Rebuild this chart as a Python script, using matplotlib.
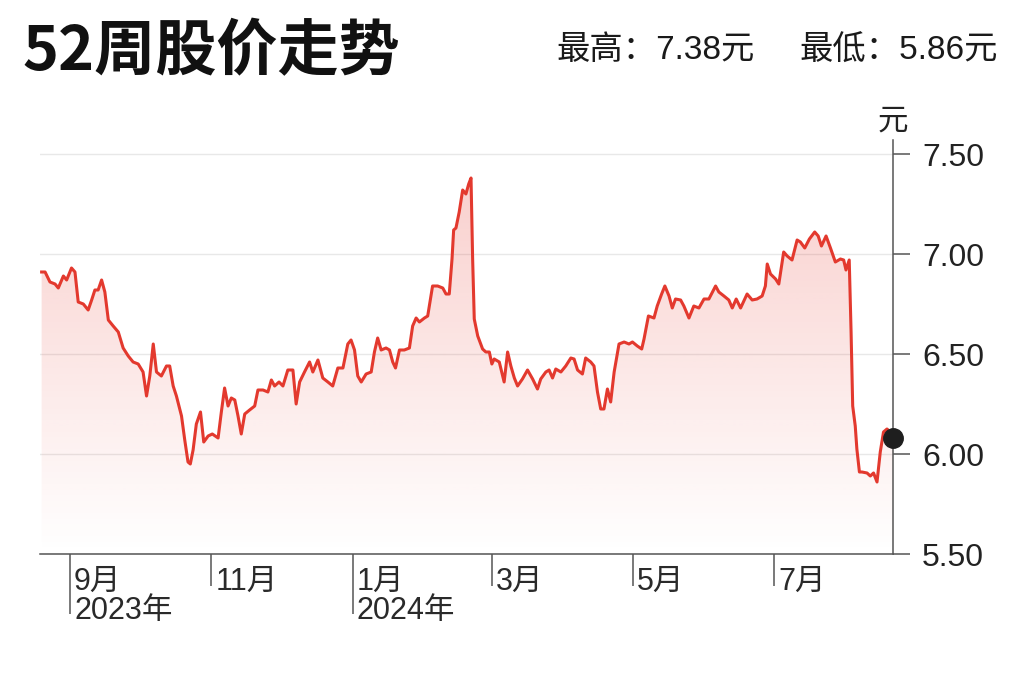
import numpy as np
import pandas as pd
import matplotlib
matplotlib.use('Agg')
import matplotlib.pyplot as plt
import matplotlib.dates as mdates
import matplotlib.transforms as mtransforms
from matplotlib.patches import Polygon

plt.rcParams['font.family'] = ['Noto Sans CJK SC', 'DejaVu Sans']
latin = ['Liberation Sans', 'Noto Sans CJK SC']

# data (days after 2023-08-19, close price in 元)
start = pd.Timestamp('2023-08-19')
day = [0.7, 2.2, 4.3, 6.5, 7.9, 10.1, 11.5, 13.6, 15.1, 16.5, 18.7, 20.8,
       22.3, 23.7, 25.1, 26.6, 28.0, 29.5, 31.6, 33.8, 35.9, 38.1, 40.2, 42.4,
       44.5, 46.0, 47.4, 48.9, 50.3, 52.4, 54.6, 56.0, 57.5, 58.9, 61.1, 62.5,
       63.9, 64.9, 66.1, 67.5, 69.3, 70.7, 72.6, 74.4, 76.9, 78.3, 79.7, 81.2,
       82.6, 84.1, 85.5, 86.9, 88.4, 90.5, 92.7, 94.1, 96.3, 98.4, 99.9, 101.3,
       103.2, 104.9, 107.0, 109.2, 110.6, 112.1, 114.2, 116.4, 117.8, 120.0,
       122.1, 124.3, 126.4, 128.6, 130.8, 132.9, 134.3, 135.8, 137.2, 138.7,
       140.8, 143.0, 144.4, 145.8, 147.3, 149.4, 150.9, 152.3, 153.5, 155.2,
       157.3, 159.5, 160.9, 162.4, 163.8, 166.0, 167.4, 169.5, 171.7, 173.9,
       175.3, 176.7, 177.9, 178.6, 179.6, 181.0, 182.5, 183.9, 185.1, 186.1,
       186.8, 187.5, 189.0, 191.1, 192.5, 194.0, 195.1, 196.1, 198.3, 200.4,
       201.9, 203.3, 204.8, 206.2, 208.3, 210.5, 212.7, 214.8, 216.2, 218.4,
       219.8, 221.3, 222.7, 224.9, 227.0, 229.2, 230.6, 232.1, 234.2, 235.6,
       237.8, 239.2, 240.7, 242.1, 243.5, 245.0, 246.4, 247.9, 250.0, 252.2,
       254.3, 255.8, 257.9, 259.8, 260.8, 262.7, 265.1, 266.5, 268.4, 269.8,
       271.6, 273.0, 274.4, 276.6, 278.0, 280.2, 282.3, 284.5, 286.7, 288.8,
       291.7, 293.1, 295.3, 297.4, 298.9, 300.6, 302.5, 305.3, 307.5, 309.6,
       311.8, 313.2, 314.0, 315.4, 317.6, 319.0, 321.1, 322.6, 324.7, 326.9,
       328.3, 330.2, 332.2, 334.5, 336.0, 337.4, 339.4, 341.3, 343.4, 345.6,
       347.0, 348.0, 349.4, 350.2, 350.9, 352.0, 352.7, 353.8, 354.9, 357.1,
       358.5, 359.9, 361.4, 362.8, 364.2, 365.7, 367.1, 368.3]
price = [6.91, 6.91, 6.86, 6.85, 6.83, 6.89, 6.87, 6.93, 6.91, 6.76, 6.75, 6.72,
         6.77, 6.82, 6.82, 6.87, 6.81, 6.67, 6.64, 6.61, 6.53, 6.49, 6.46, 6.45,
         6.41, 6.29, 6.39, 6.55, 6.41, 6.39, 6.44, 6.44, 6.34, 6.29, 6.19, 6.07,
         5.96, 5.95, 6.02, 6.15, 6.21, 6.06, 6.09, 6.10, 6.08, 6.21, 6.33, 6.24,
         6.28, 6.27, 6.19, 6.10, 6.20, 6.22, 6.24, 6.32, 6.32, 6.31, 6.37, 6.34,
         6.36, 6.34, 6.42, 6.42, 6.25, 6.36, 6.41, 6.46, 6.41, 6.47,
         6.38, 6.36, 6.34, 6.43, 6.43, 6.55, 6.57, 6.52, 6.39, 6.36,
         6.40, 6.41, 6.51, 6.58, 6.52, 6.53, 6.52, 6.46, 6.43, 6.52,
         6.52, 6.53, 6.64, 6.68, 6.66, 6.68, 6.69, 6.84, 6.84, 6.83,
         6.80, 6.80, 6.975, 7.12, 7.13, 7.21, 7.32, 7.30, 7.35, 7.38,
         6.975, 6.675, 6.59, 6.525, 6.51, 6.51, 6.45, 6.475, 6.46, 6.36,
         6.51, 6.44, 6.38, 6.34, 6.375, 6.42, 6.375, 6.325, 6.375, 6.41,
         6.42, 6.38, 6.425, 6.41, 6.44, 6.48, 6.475, 6.42, 6.40, 6.48,
         6.46, 6.44, 6.31, 6.225, 6.225, 6.325, 6.26, 6.41, 6.55, 6.56,
         6.55, 6.56, 6.54, 6.525, 6.575, 6.69, 6.68, 6.74, 6.80, 6.84,
         6.79, 6.73, 6.775, 6.77, 6.74, 6.68, 6.74, 6.73, 6.775, 6.775,
         6.84, 6.81, 6.79, 6.77, 6.73, 6.775, 6.73, 6.80, 6.77, 6.775,
         6.79, 6.84, 6.95, 6.90, 6.875, 6.85, 7.01, 6.99, 6.97, 7.07,
         7.06, 7.03, 7.075, 7.11, 7.09, 7.04, 7.09, 7.03, 6.96, 6.975,
         6.97, 6.92, 6.97, 6.61, 6.24, 6.14, 6.025, 5.91, 5.91, 5.905,
         5.89, 5.905, 5.86, 6.01, 6.11, 6.125, 6.11, 6.08]

month_ticks = ['2023-09-01', '2023-11-01', '2024-01-01',
               '2024-03-01', '2024-05-01', '2024-07-01']
month_labels = ['9月\n2023年', '11月', '1月\n2024年', '3月', '5月', '7月']
year_start = [True, False, True, False, False, False]
y_ticks = [5.5, 6.0, 6.5, 7.0, 7.5]
high, low = 7.38, 5.86

line_color = '#e3392e'
axis_color = '#555555'

dates = start + pd.to_timedelta(day, unit='D')
x = mdates.date2num(dates)
y = np.array(price)
tick_x = mdates.date2num(pd.to_datetime(month_ticks))
x0 = mdates.date2num(start)
ymin, ymax = 5.5, 7.57

fig = plt.figure(figsize=(10.24, 6.82), dpi=100)
ax = fig.add_axes([40 / 1024, 128 / 682, 853 / 1024, 414 / 682])

# gradient fill under the line
grad = np.zeros((256, 1, 4))
grad[:, 0, :3] = matplotlib.colors.to_rgb('#e8463c')
grad[:, 0, 3] = np.linspace(0.0, 0.27, 256)
im = ax.imshow(grad, extent=[x0, x[-1], ymin, 7.5], origin='lower',
               aspect='auto', zorder=1, interpolation='bilinear')
verts = [(x[0], ymin)] + list(zip(x, y)) + [(x[-1], ymin)]
clip = Polygon(verts, closed=True, transform=ax.transData,
               facecolor='none', edgecolor='none')
ax.add_patch(clip)
im.set_clip_path(clip)

ax.plot(x, y, color=line_color, lw=2.2, zorder=3, solid_joinstyle='round')
ax.plot(x[-1], y[-1], 'o', color='#1e1e1e', ms=14, zorder=5, clip_on=False)

ax.set_xlim(x0, x[-1])
ax.set_ylim(ymin, ymax)

for s in ['top', 'left']:
    ax.spines[s].set_visible(False)
for s in ['right', 'bottom']:
    ax.spines[s].set_color(axis_color)
    ax.spines[s].set_linewidth(1.1)

ax.set_axisbelow(True)
ax.yaxis.grid(True, color='#e8e8e8', lw=1)
ax.yaxis.tick_right()
ax.set_yticks(y_ticks)
ax.set_yticklabels(['%.2f' % v for v in y_ticks], family=latin)
ax.tick_params(axis='y', length=12, width=1.1, color=axis_color, pad=9,
               labelsize=23, labelcolor='#222222')

# month ticks: long ones at year start, short ones otherwise
ax.set_xticks([t for t, b in zip(tick_x, year_start) if b])
ax.set_xticks([t for t, b in zip(tick_x, year_start) if not b], minor=True)
ax.set_xticklabels([])
ax.tick_params(axis='x', which='major', length=43, width=1.1, color=axis_color)
ax.tick_params(axis='x', which='minor', length=23, width=1.1, color=axis_color)

trans = mtransforms.blended_transform_factory(ax.transData, ax.transAxes)
trans = trans + mtransforms.ScaledTranslation(0.04, 0, fig.dpi_scale_trans)
for t, lab in zip(tick_x, month_labels):
    ax.text(t, -0.032, lab, transform=trans, ha='left', va='top',
            fontsize=22, family=latin, color='#2a2a2a', linespacing=0.95)

ax.text(1.0, 1.045, '元', transform=ax.transAxes, ha='center', va='center',
        fontsize=22, color='#222222')

fig.text(22 / 1024, 1 - 52 / 682, '52周股价走势', ha='left', va='center',
         fontsize=44, fontweight='bold', color='#111111')
fig.text(755 / 1024, 1 - 51 / 682, '最高：%.2f元' % high, ha='right',
         va='center', fontsize=24, family=latin, color='#1a1a1a')
fig.text(998 / 1024, 1 - 51 / 682, '最低：%.2f元' % low, ha='right',
         va='center', fontsize=24, family=latin, color='#1a1a1a')

fig.savefig('out.png', dpi=100)
